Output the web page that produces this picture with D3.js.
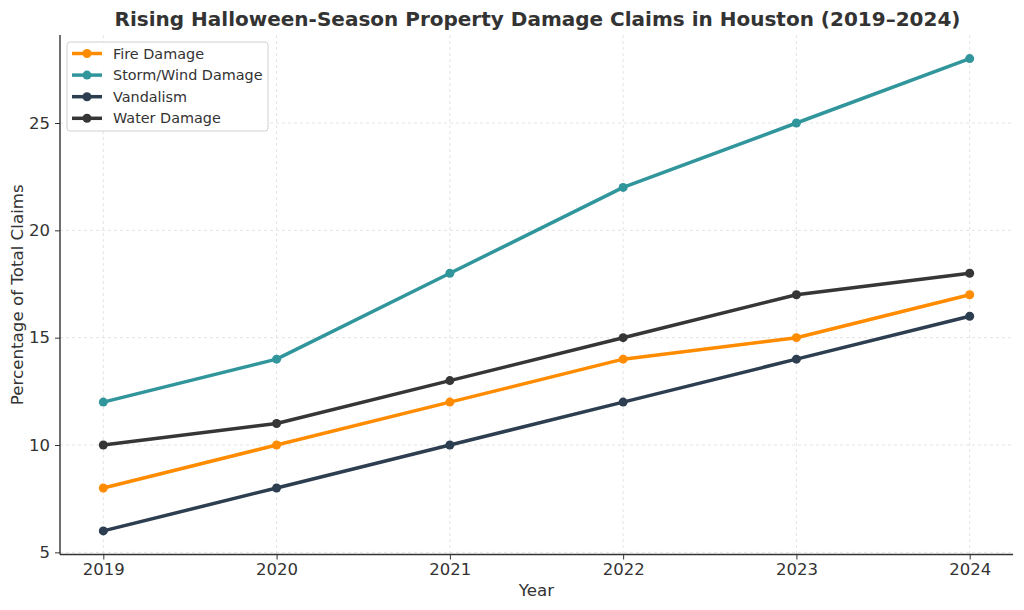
<!DOCTYPE html>
<html><head><meta charset="utf-8">
<script src="https://cdn.jsdelivr.net/npm/d3@7"></script>
<style>body{margin:0;background:#fff}svg{display:block;font-family:"DejaVu Sans",sans-serif}</style>
</head><body><svg id="c" width="1024" height="610"></svg>
<script>
const years = [2019, 2020, 2021, 2022, 2023, 2024];
const seriesNames = ["Fire Damage", "Storm/Wind Damage", "Vandalism", "Water Damage"];
const fireDamage = [8, 10, 12, 14, 15, 17];
const stormWindDamage = [12, 14, 18, 22, 25, 28];
const vandalism = [6, 8, 10, 12, 14, 16];
const waterDamage = [10, 11, 13, 15, 17, 18];
const seriesColors = ["#ff8c00", "#31969c", "#2c3e50", "#363636"];
const yTicks = [5, 10, 15, 20, 25];
const title = "Rising Halloween-Season Property Damage Claims in Houston (2019–2024)";

const series = [fireDamage, stormWindDamage, vandalism, waterDamage].map((v, i) => ({name: seriesNames[i], color: seriesColors[i], values: v}));

const svg = d3.select("#c");
const L = 60, R = 1013, T = 35, B = 554.5;
const x = d3.scaleLinear().domain([2018.75, 2024.25]).range([L, R]);
const y = d3.scaleLinear().domain([4.9, 29.1]).range([B, T]);
const ink = "#333333";

// grid
const g = svg.append("g");
g.selectAll(".vg").data(years).join("line").attr("x1", d => x(d)).attr("x2", d => x(d)).attr("y1", T).attr("y2", B)
  .attr("stroke", "#dddddd").attr("stroke-width", 0.8).attr("stroke-dasharray", "3,3");
g.selectAll(".hg").data(yTicks).join("line").attr("y1", d => y(d)).attr("y2", d => y(d)).attr("x1", L).attr("x2", R)
  .attr("stroke", "#dddddd").attr("stroke-width", 0.8).attr("stroke-dasharray", "3,3");

// axes
const xAxis = svg.append("g").attr("transform", `translate(0,${B})`)
  .call(d3.axisBottom(x).tickValues(years).tickFormat(d3.format("d")).tickSize(5).tickSizeOuter(0).tickPadding(4));
const yAxis = svg.append("g").attr("transform", `translate(${L},0)`)
  .call(d3.axisLeft(y).tickValues(yTicks).tickSize(5).tickSizeOuter(0).tickPadding(5));
[xAxis, yAxis].forEach(a => {
  a.select(".domain").remove();
  a.selectAll("line").attr("stroke", ink).attr("stroke-width", 1);
  a.selectAll("text").attr("fill", ink).style("font-size", "16.5px").style("font-family", "DejaVu Sans");
});
svg.append("line").attr("x1", L).attr("x2", L).attr("y1", T).attr("y2", B).attr("stroke", ink).attr("stroke-width", 1.4);
svg.append("line").attr("x1", L).attr("x2", R).attr("y1", B).attr("y2", B).attr("stroke", ink).attr("stroke-width", 1.4);

// lines
const line = d3.line().x((d, i) => x(years[i])).y(d => y(d));
series.forEach(s => {
  svg.append("path").datum(s.values).attr("d", line).attr("fill", "none").attr("stroke", s.color)
    .attr("stroke-width", 3.5).attr("stroke-linejoin", "round").attr("stroke-linecap", "round");
  svg.append("g").selectAll("circle").data(s.values).join("circle")
    .attr("cx", (d, i) => x(years[i])).attr("cy", d => y(d)).attr("r", 4.5).attr("fill", s.color);
});

// labels
svg.append("text").attr("x", (L + R) / 2 + 1).attr("y", 26).attr("text-anchor", "middle")
  .attr("fill", ink).style("font-size", "20px").style("font-weight", "bold").text(title);
svg.append("text").attr("x", (L + R) / 2).attr("y", 596).attr("text-anchor", "middle")
  .attr("fill", ink).style("font-size", "16.7px").text("Year");
svg.append("text").attr("transform", `translate(23,${(T + B) / 2}) rotate(-90)`).attr("text-anchor", "middle")
  .attr("fill", ink).style("font-size", "16.7px").text("Percentage of Total Claims");

// legend
const lg = svg.append("g").attr("transform", "translate(67,42)");
lg.append("rect").attr("width", 201).attr("height", 89).attr("rx", 3).attr("fill", "#fff").attr("fill-opacity", 0.85)
  .attr("stroke", "#d0d0d0").attr("stroke-width", 1);
series.forEach((s, i) => {
  const yy = 11.5 + i * 21.6;
  lg.append("line").attr("x1", 5).attr("x2", 35).attr("y1", yy).attr("y2", yy).attr("stroke", s.color).attr("stroke-width", 3.5);
  lg.append("circle").attr("cx", 20).attr("cy", yy).attr("r", 4.5).attr("fill", s.color);
  lg.append("text").attr("x", 46).attr("y", yy + 5).attr("fill", ink).style("font-size", "14.4px").text(s.name);
});
</script></body></html>
